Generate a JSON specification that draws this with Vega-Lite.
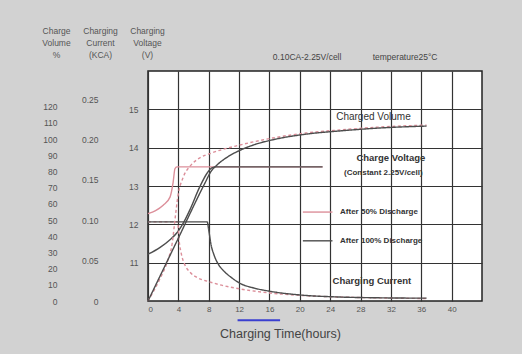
{
  "$schema": "https://vega.github.io/schema/vega-lite/v6.json",
  "width": 334,
  "height": 230,
  "autosize": {"type": "none"},
  "padding": {"left": 148, "top": 71, "right": 40, "bottom": 53},
  "background": "#d2d2d2",
  "config": {
    "font": "Liberation Sans",
    "view": {"stroke": "#222", "strokeWidth": 1.5, "fill": "white"},
    "axisX": {"grid": true, "gridColor": "#333", "gridWidth": 1.2, "gridOpacity": 1,
      "domain": false, "ticks": false, "labelPadding": 4, "labelFontSize": 8, "labelColor": "#555",
      "titleFontSize": 12.5, "titleFontWeight": "normal", "titleColor": "#444",
      "titleX": 132, "titleY": 32, "titleBaseline": "middle", "titleAlign": "center"}
  },
  "datasets": {
    "voltage": [
      {"series": "50%", "h": 0, "v": 12.28}, {"series": "50%", "h": 1, "v": 12.36}, {"series": "50%", "h": 2, "v": 12.5},
      {"series": "50%", "h": 2.9, "v": 12.71}, {"series": "50%", "h": 3.3, "v": 13.08}, {"series": "50%", "h": 3.55, "v": 13.45},
      {"series": "50%", "h": 3.8, "v": 13.5}, {"series": "50%", "h": 23, "v": 13.5},
      {"series": "100%", "h": 0, "v": 11.22}, {"series": "100%", "h": 1.6, "v": 11.4}, {"series": "100%", "h": 2.9, "v": 11.6},
      {"series": "100%", "h": 3.9, "v": 11.8}, {"series": "100%", "h": 4.7, "v": 12.05}, {"series": "100%", "h": 5.5, "v": 12.37},
      {"series": "100%", "h": 6.8, "v": 12.97}, {"series": "100%", "h": 7.8, "v": 13.34}, {"series": "100%", "h": 8.4, "v": 13.47},
      {"series": "100%", "h": 9, "v": 13.5}, {"series": "100%", "h": 23, "v": 13.5}
    ],
    "current": [
      {"series": "50%", "h": 0, "ca": 0.098}, {"series": "50%", "h": 3.9, "ca": 0.098}, {"series": "50%", "h": 4.1, "ca": 0.075},
      {"series": "50%", "h": 4.4, "ca": 0.058}, {"series": "50%", "h": 4.8, "ca": 0.046}, {"series": "50%", "h": 5.5, "ca": 0.036},
      {"series": "50%", "h": 6.5, "ca": 0.029}, {"series": "50%", "h": 8, "ca": 0.024}, {"series": "50%", "h": 9.5, "ca": 0.02},
      {"series": "50%", "h": 12.1, "ca": 0.015}, {"series": "50%", "h": 16, "ca": 0.01}, {"series": "50%", "h": 20, "ca": 0.007},
      {"series": "50%", "h": 25, "ca": 0.005}, {"series": "50%", "h": 30, "ca": 0.004}, {"series": "50%", "h": 36.7, "ca": 0.003},
      {"series": "100%", "h": 0, "ca": 0.098}, {"series": "100%", "h": 7.8, "ca": 0.098}, {"series": "100%", "h": 8.0, "ca": 0.088},
      {"series": "100%", "h": 8.3, "ca": 0.07}, {"series": "100%", "h": 8.7, "ca": 0.057}, {"series": "100%", "h": 9.3, "ca": 0.045},
      {"series": "100%", "h": 10, "ca": 0.037}, {"series": "100%", "h": 11, "ca": 0.029}, {"series": "100%", "h": 12.1, "ca": 0.022},
      {"series": "100%", "h": 14, "ca": 0.016}, {"series": "100%", "h": 16.1, "ca": 0.012}, {"series": "100%", "h": 20, "ca": 0.0075},
      {"series": "100%", "h": 25, "ca": 0.005}, {"series": "100%", "h": 30, "ca": 0.004}, {"series": "100%", "h": 36.7, "ca": 0.0035}
    ],
    "volume": [
      {"series": "50%", "h": 0, "pct": 0}, {"series": "50%", "h": 1.6, "pct": 14}, {"series": "50%", "h": 2.6, "pct": 25},
      {"series": "50%", "h": 3.2, "pct": 36}, {"series": "50%", "h": 3.55, "pct": 50}, {"series": "50%", "h": 3.95, "pct": 65},
      {"series": "50%", "h": 4.6, "pct": 76}, {"series": "50%", "h": 5.5, "pct": 83}, {"series": "50%", "h": 6.8, "pct": 88.3},
      {"series": "50%", "h": 8.4, "pct": 91.4}, {"series": "50%", "h": 12.1, "pct": 96.3}, {"series": "50%", "h": 16.4, "pct": 100.6},
      {"series": "50%", "h": 20.8, "pct": 103.7}, {"series": "50%", "h": 25.3, "pct": 105.6}, {"series": "50%", "h": 30.5, "pct": 107.4},
      {"series": "50%", "h": 36.7, "pct": 108.6},
      {"series": "100%", "h": 0, "pct": 0}, {"series": "100%", "h": 3.75, "pct": 36.4}, {"series": "100%", "h": 7.5, "pct": 72.8},
      {"series": "100%", "h": 8.3, "pct": 80}, {"series": "100%", "h": 9.1, "pct": 84}, {"series": "100%", "h": 10.5, "pct": 89},
      {"series": "100%", "h": 12.1, "pct": 93}, {"series": "100%", "h": 14, "pct": 96.5}, {"series": "100%", "h": 16.4, "pct": 99.5},
      {"series": "100%", "h": 20.8, "pct": 103}, {"series": "100%", "h": 25.3, "pct": 105}, {"series": "100%", "h": 30.5, "pct": 106.8},
      {"series": "100%", "h": 36.7, "pct": 108}
    ],
    "key": [
      {"series": "50%", "h": 20.4, "h2": 24.3, "v": 12.32},
      {"series": "100%", "h": 20.4, "h2": 24.3, "v": 11.57}
    ],
    "marker": [
      {"h": 11.8, "h2": 17.4, "v": 9.5}
    ],
    "notes": [
      {"label": "Charged Volume", "h": 29.7, "v": 14.8},
      {"label": "Charge Voltage", "h": 32.0, "v": 13.73},
      {"label": "(Constant 2.25V/cell)", "h": 31.0, "v": 13.34},
      {"label": "After 50% Discharge", "h": 25.3, "v": 12.32},
      {"label": "After 100% Discharge", "h": 25.3, "v": 11.57},
      {"label": "Charging Current", "h": 29.5, "v": 10.52},
      {"label": "0.10CA-2.25V/cell", "h": 16.45, "v": 16.37},
      {"label": "temperature25°C", "h": 29.6, "v": 16.37}
    ]
  },
  "layer": [
    {
      "data": {"name": "voltage"},
      "mark": {"type": "line", "interpolate": "monotone", "strokeWidth": 1.4},
      "encoding": {
        "x": {"field": "h", "type": "quantitative", "scale": {"domain": [0, 44], "nice": false}, "title": "Charging Time(hours)", "axis": {"values": [0, 4, 8, 12, 16, 20, 24, 28, 32, 36, 40]}},
        "y": {"field": "v", "type": "quantitative", "scale": {"domain": [10, 16], "nice": false, "zero": false},
          "axis": {"orient": "left", "values": [11, 12, 13, 14, 15], "grid": true, "gridColor": "#333", "gridWidth": 1.2, "gridOpacity": 1,
            "domain": false, "ticks": false, "tickSize": 0, "labelPadding": 10, "labelAlign": "right", "labelBaseline": "middle",
            "labelFontSize": 8.5, "labelColor": "#555",
            "title": ["Charging", "Voltage", "", "(V)"], "titleAngle": 0, "titleAlign": "center", "titleBaseline": "alphabetic",
            "titleX": -1, "titleY": -38, "titleLineHeight": 12, "titleFontSize": 8.5, "titleFontWeight": "normal", "titleColor": "#555"}},
        "color": {"field": "series", "type": "nominal", "scale": {"domain": ["50%", "100%"], "range": ["#dc8f9a", "#4d4d4d"]}, "legend": null}
      }
    },
    {
      "data": {"name": "key"},
      "mark": {"type": "rule", "strokeWidth": 1.4},
      "encoding": {
        "x": {"field": "h", "type": "quantitative", "scale": {"domain": [0, 44], "nice": false}, "title": "Charging Time(hours)", "axis": {"values": [0, 4, 8, 12, 16, 20, 24, 28, 32, 36, 40]}},
        "x2": {"field": "h2"},
        "y": {"field": "v", "type": "quantitative", "scale": {"domain": [10, 16], "nice": false, "zero": false}, "axis": null},
        "color": {"field": "series", "type": "nominal", "scale": {"domain": ["50%", "100%"], "range": ["#dc8f9a", "#4d4d4d"]}, "legend": null}
      }
    },
    {
      "data": {"name": "marker"},
      "mark": {"type": "rule", "strokeWidth": 2, "color": "#3a3fd0"},
      "encoding": {
        "x": {"field": "h", "type": "quantitative", "scale": {"domain": [0, 44], "nice": false}, "title": "Charging Time(hours)", "axis": {"values": [0, 4, 8, 12, 16, 20, 24, 28, 32, 36, 40]}},
        "x2": {"field": "h2"},
        "y": {"field": "v", "type": "quantitative", "scale": {"domain": [10, 16], "nice": false, "zero": false}, "axis": null}
      }
    },
    {
      "data": {"name": "notes"},
      "transform": [{"filter": {"field": "label", "equal": "Charged Volume"}}],
      "mark": {"type": "text", "align": "center", "baseline": "middle", "fontSize": 10, "color": "#333"},
      "encoding": {
        "x": {"field": "h", "type": "quantitative", "scale": {"domain": [0, 44], "nice": false}, "title": "Charging Time(hours)", "axis": {"values": [0, 4, 8, 12, 16, 20, 24, 28, 32, 36, 40]}},
        "y": {"field": "v", "type": "quantitative", "scale": {"domain": [10, 16], "nice": false, "zero": false}, "axis": null},
        "text": {"field": "label"}
      }
    },
    {
      "data": {"name": "notes"},
      "transform": [{"filter": {"field": "label", "oneOf": ["0.10CA-2.25V/cell", "temperature25°C"]}}],
      "mark": {"type": "text", "align": "left", "baseline": "middle", "fontSize": 8.5, "color": "#444"},
      "encoding": {
        "x": {"field": "h", "type": "quantitative", "scale": {"domain": [0, 44], "nice": false}, "title": "Charging Time(hours)", "axis": {"values": [0, 4, 8, 12, 16, 20, 24, 28, 32, 36, 40]}},
        "y": {"field": "v", "type": "quantitative", "scale": {"domain": [10, 16], "nice": false, "zero": false}, "axis": null},
        "text": {"field": "label"}
      }
    },
    {
      "data": {"name": "notes"},
      "transform": [{"filter": {"field": "label", "oneOf": ["Charge Voltage", "Charging Current"]}}],
      "mark": {"type": "text", "align": "center", "baseline": "middle", "fontSize": 9.5, "fontWeight": "bold", "color": "#333"},
      "encoding": {
        "x": {"field": "h", "type": "quantitative", "scale": {"domain": [0, 44], "nice": false}, "title": "Charging Time(hours)", "axis": {"values": [0, 4, 8, 12, 16, 20, 24, 28, 32, 36, 40]}},
        "y": {"field": "v", "type": "quantitative", "scale": {"domain": [10, 16], "nice": false, "zero": false}, "axis": null},
        "text": {"field": "label"}
      }
    },
    {
      "data": {"name": "notes"},
      "transform": [{"filter": {"field": "label", "equal": "(Constant 2.25V/cell)"}}],
      "mark": {"type": "text", "align": "center", "baseline": "middle", "fontSize": 8, "fontWeight": "bold", "color": "#333"},
      "encoding": {
        "x": {"field": "h", "type": "quantitative", "scale": {"domain": [0, 44], "nice": false}, "title": "Charging Time(hours)", "axis": {"values": [0, 4, 8, 12, 16, 20, 24, 28, 32, 36, 40]}},
        "y": {"field": "v", "type": "quantitative", "scale": {"domain": [10, 16], "nice": false, "zero": false}, "axis": null},
        "text": {"field": "label"}
      }
    },
    {
      "data": {"name": "notes"},
      "transform": [{"filter": {"field": "label", "oneOf": ["After 50% Discharge", "After 100% Discharge"]}}],
      "mark": {"type": "text", "align": "left", "baseline": "middle", "fontSize": 8, "fontWeight": "bold", "color": "#333"},
      "encoding": {
        "x": {"field": "h", "type": "quantitative", "scale": {"domain": [0, 44], "nice": false}, "title": "Charging Time(hours)", "axis": {"values": [0, 4, 8, 12, 16, 20, 24, 28, 32, 36, 40]}},
        "y": {"field": "v", "type": "quantitative", "scale": {"domain": [10, 16], "nice": false, "zero": false}, "axis": null},
        "text": {"field": "label"}
      }
    },
    {
      "data": {"name": "current"},
      "mark": {"type": "line", "interpolate": "monotone", "strokeWidth": 1.4},
      "encoding": {
        "x": {"field": "h", "type": "quantitative", "scale": {"domain": [0, 44], "nice": false}, "title": "Charging Time(hours)", "axis": {"values": [0, 4, 8, 12, 16, 20, 24, 28, 32, 36, 40]}},
        "y": {"field": "ca", "type": "quantitative", "scale": {"domain": [0, 0.285], "nice": false, "zero": false},
          "axis": {"orient": "left", "offset": 50, "values": [0, 0.05, 0.1, 0.15, 0.2, 0.25], "grid": false, "domain": false, "ticks": false, "tickSize": 0,
            "labelPadding": 0, "labelAlign": "right", "labelBaseline": "middle", "labelFontSize": 8.5, "labelColor": "#555",
            "labelExpr": "datum.value == 0 ? '0' : format(datum.value, '.2f')",
            "title": ["Charging", "Current", "", "(KCA)"], "titleAngle": 0, "titleAlign": "center", "titleBaseline": "alphabetic",
            "titleX": 2, "titleY": -38, "titleLineHeight": 12, "titleFontSize": 8.5, "titleFontWeight": "normal", "titleColor": "#555"}},
        "color": {"field": "series", "type": "nominal", "scale": {"domain": ["50%", "100%"], "range": ["#dc8f9a", "#4d4d4d"]}, "legend": null},
        "strokeDash": {"field": "series", "type": "nominal", "scale": {"domain": ["50%", "100%"], "range": [[3, 2.5], [1, 0]]}, "legend": null}
      }
    },
    {
      "data": {"name": "volume"},
      "mark": {"type": "line", "interpolate": "monotone", "strokeWidth": 1.4},
      "encoding": {
        "x": {"field": "h", "type": "quantitative", "scale": {"domain": [0, 44], "nice": false}, "title": "Charging Time(hours)", "axis": {"values": [0, 4, 8, 12, 16, 20, 24, 28, 32, 36, 40]}},
        "y": {"field": "pct", "type": "quantitative", "scale": {"domain": [0, 142], "nice": false, "zero": false},
          "axis": {"orient": "left", "offset": 91, "values": [0, 10, 20, 30, 40, 50, 60, 70, 80, 90, 100, 110, 120], "grid": false, "domain": false, "ticks": false, "tickSize": 0,
            "labelPadding": 0, "labelAlign": "right", "labelBaseline": "middle", "labelFontSize": 8.5, "labelColor": "#555",
            "title": ["Charge", "Volume", "", "%"], "titleAngle": 0, "titleAlign": "center", "titleBaseline": "alphabetic",
            "titleX": -1, "titleY": -38, "titleLineHeight": 12, "titleFontSize": 8.5, "titleFontWeight": "normal", "titleColor": "#555"}},
        "color": {"field": "series", "type": "nominal", "scale": {"domain": ["50%", "100%"], "range": ["#dc8f9a", "#4d4d4d"]}, "legend": null},
        "strokeDash": {"field": "series", "type": "nominal", "scale": {"domain": ["50%", "100%"], "range": [[3, 2.5], [1, 0]]}, "legend": null}
      }
    }
  ],
  "resolve": {"scale": {"y": "independent"}, "axis": {"y": "independent"}}
}
